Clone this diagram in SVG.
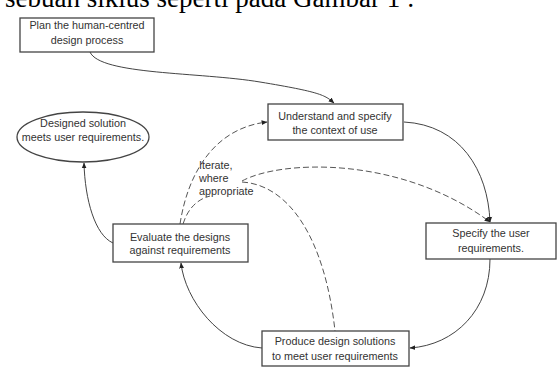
<svg xmlns="http://www.w3.org/2000/svg" width="557" height="367" viewBox="0 0 557 367">
<style>
.box{fill:#fff;stroke:#444;stroke-width:1.3}
.t{font-family:"Liberation Sans",Arial,sans-serif;font-size:10.8px;fill:#333;text-anchor:middle}
.c{fill:none;stroke:#444;stroke-width:1}
.d{fill:none;stroke:#555;stroke-width:1;stroke-dasharray:6 3}
.head{font-family:"Liberation Serif","Times New Roman",serif;font-size:27px;fill:#000}
</style>
<defs>
<marker id="arr" viewBox="0 0 10 10" refX="9" refY="5" markerWidth="6" markerHeight="6" orient="auto" markerUnits="userSpaceOnUse">
<path d="M0,1 L10,5 L0,9 z" fill="#222"/>
</marker>
</defs>
<rect width="557" height="367" fill="#fff"/>
<text class="head" x="5" y="7">sebuah siklus seperti pada Gambar 1 :</text>

<g id="connectors">
<path class="c" d="M90,52 C100,75 200,72 260,82 S325,95 334,103" marker-end="url(#arr)"/>
<path class="c" d="M404,122 C460,125 488,170 490,222" marker-end="url(#arr)"/>
<path class="c" d="M490,259 C490,310 455,345 410,348" marker-end="url(#arr)"/>
<path class="c" d="M262,348 C220,345 185,300 181,263" marker-end="url(#arr)"/>
<path class="c" d="M113,243 C95,235 85,200 84,163" marker-end="url(#arr)"/>
<path class="d" d="M180,224 C188,172 215,128 267,122" marker-end="url(#arr)"/>
<path class="d" d="M183,224 C188,208 198,199 210,196"/>
<path class="d" d="M242,181 C280,160 400,155 490,222" marker-end="url(#arr)"/>
<path class="d" d="M242,182 C290,185 325,240 335,331"/>
</g>

<g id="plan">
<rect class="box" x="20" y="18" width="134" height="34"/>
<text class="t" x="87" y="29">Plan the human-centred</text>
<text class="t" x="87" y="44">design process</text>
</g>
<g id="designed">
<ellipse class="box" cx="83" cy="137" rx="66" ry="25"/>
<text class="t" x="83" y="127">Designed solution</text>
<text class="t" x="83" y="141">meets user requirements.</text>
</g>
<g id="understand">
<rect class="box" x="268" y="104" width="135" height="36"/>
<text class="t" x="335" y="120">Understand and specify</text>
<text class="t" x="335" y="134">the context of use</text>
</g>
<g id="specify">
<rect class="box" x="426" y="223" width="130" height="36"/>
<text class="t" x="491" y="237">Specify the user</text>
<text class="t" x="491" y="252">requirements.</text>
</g>
<g id="evaluate">
<rect class="box" x="113" y="224" width="135" height="38"/>
<text class="t" x="180" y="241">Evaluate the designs</text>
<text class="t" x="180" y="254">against requirements</text>
</g>
<g id="produce">
<rect class="box" x="262" y="331" width="147" height="35"/>
<text class="t" x="335" y="345">Produce design solutions</text>
<text class="t" x="335" y="360">to meet user requirements</text>
</g>
<g id="iterate">
<text class="t" style="text-anchor:start" x="199" y="169">Iterate,</text>
<text class="t" style="text-anchor:start" x="199" y="182">where</text>
<text class="t" style="text-anchor:start" x="199" y="195">appropriate</text>
</g>
</svg>
